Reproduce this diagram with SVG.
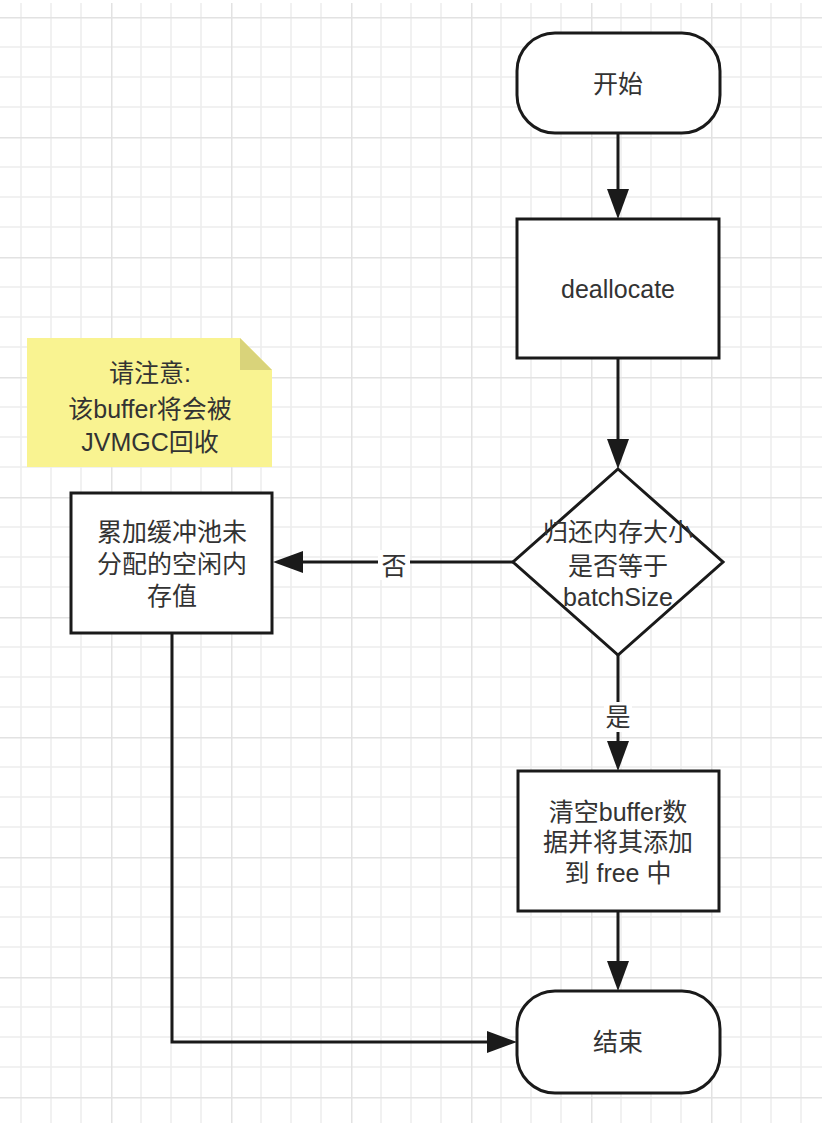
<svg xmlns="http://www.w3.org/2000/svg" width="822" height="1140" viewBox="0 0 822 1140">
<defs>
<pattern id="grid" patternUnits="userSpaceOnUse" x="-9" y="17" width="120" height="120">
<path d="M30,0V120M60,0V120M90,0V120M0,30H120M0,60H120M0,90H120" stroke="#ededed" stroke-width="1.5" fill="none"/>
<path d="M0.75,0V120M0,0.75H120" stroke="#e2e2e2" stroke-width="1.5" fill="none"/>
</pattern>
<marker id="arr" markerUnits="userSpaceOnUse" markerWidth="30" markerHeight="22" refX="0" refY="11" orient="auto">
<path d="M0,0 L30,11 L0,22 Z" fill="#1a1a1a"/>
</marker>
<style>
.shape{fill:#fff;stroke:#1a1a1a;stroke-width:3}
.t{font-family:"Liberation Sans","Noto Sans CJK SC",sans-serif;font-size:25px;fill:#333;text-anchor:middle}
.edge{fill:none;stroke:#1a1a1a;stroke-width:3}
.lbl{fill:#fff}
</style>
</defs>
<rect x="0" y="0" width="822" height="1140" fill="#fff"/>
<rect x="0" y="3" width="822" height="1120" fill="url(#grid)"/>

<g id="note">
<path d="M27,338 H240 L272,370 V467 H27 Z" fill="#f9f391"/>
<path d="M240,338 L272,370 H240 Z" fill="#d9d37a"/>
<text class="t" x="150" y="382">请注意:</text>
<text class="t" x="150" y="418">该buffer将会被</text>
<text class="t" x="150" y="451">JVMGC回收</text>
</g>

<g id="connectors">
<path class="edge" d="M618,133 V189" marker-end="url(#arr)"/>
<path class="edge" d="M618,358 V439" marker-end="url(#arr)"/>
<path class="edge" d="M514,562 H303" marker-end="url(#arr)"/>
<path class="edge" d="M618,655 V741" marker-end="url(#arr)"/>
<path class="edge" d="M618,911 V961" marker-end="url(#arr)"/>
<path class="edge" d="M172,633 V1042 H487" marker-end="url(#arr)"/>
<rect class="lbl" x="378" y="550" width="32" height="30"/>
<text class="t" x="394" y="575">否</text>
<rect class="lbl" x="604" y="702" width="28" height="30"/>
<text class="t" x="618" y="726">是</text>
</g>

<g id="start">
<rect class="shape" x="517" y="33" width="203" height="100" rx="38" ry="38"/>
<text class="t" x="618" y="93">开始</text>
</g>

<g id="deallocate">
<rect class="shape" x="517" y="219" width="202" height="139"/>
<text class="t" x="618" y="298">deallocate</text>
</g>

<g id="decision">
<path class="shape" d="M618,469 L723,562 L618,655 L513,562 Z"/>
<text class="t" x="618" y="541">归还内存大小</text>
<text class="t" x="618" y="575">是否等于</text>
<text class="t" x="618" y="606">batchSize</text>
</g>

<g id="accumulate">
<rect class="shape" x="71" y="493" width="201" height="140"/>
<text class="t" x="172" y="541">累加缓冲池未</text>
<text class="t" x="172" y="573">分配的空闲内</text>
<text class="t" x="172" y="605">存值</text>
</g>

<g id="clear">
<rect class="shape" x="518" y="771" width="201" height="140"/>
<text class="t" x="618" y="821">清空buffer数</text>
<text class="t" x="618" y="851">据并将其添加</text>
<text class="t" x="618" y="882">到 free 中</text>
</g>

<g id="end">
<rect class="shape" x="517" y="991" width="203" height="102" rx="38" ry="38"/>
<text class="t" x="618" y="1051">结束</text>
</g>
</svg>
